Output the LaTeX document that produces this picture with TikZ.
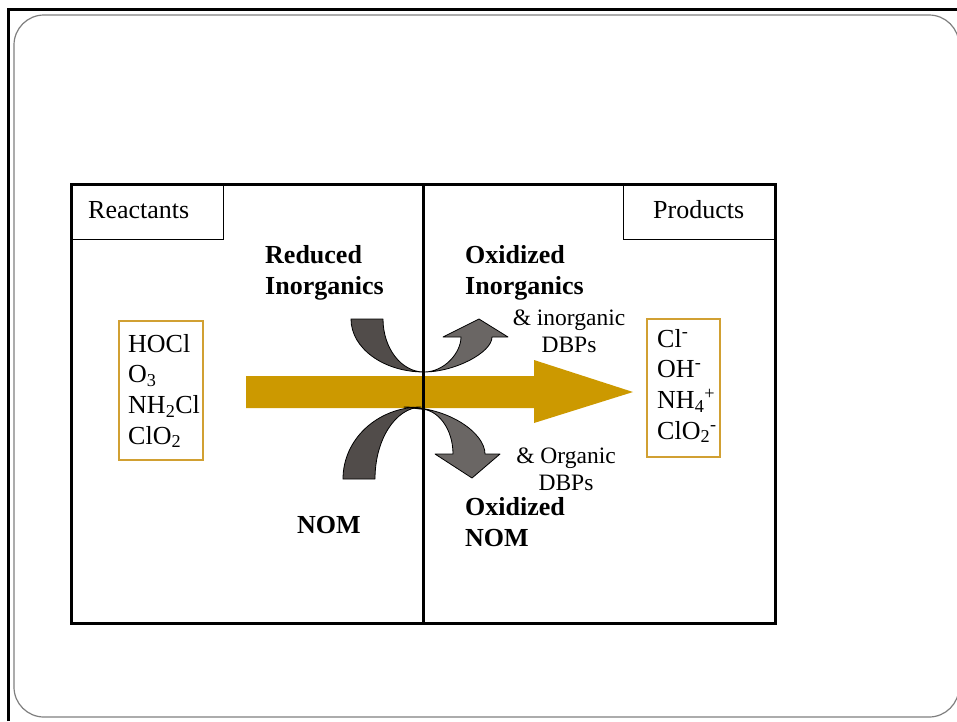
\documentclass[tikz,border=0pt]{standalone}
\usepackage{fontspec}
\setmainfont{Liberation Serif}
\definecolor{goldarrow}{HTML}{CC9900}
\definecolor{goldbox}{HTML}{D1A032}
\definecolor{darkshape}{HTML}{514C4A}
\definecolor{lightshape}{HTML}{6A6664}
\definecolor{framegray}{HTML}{7F7F7F}
\begin{document}
\begin{tikzpicture}[x=1pt,y=-1pt,
  bigtxt/.style={inner sep=0pt, anchor=base west, font=\fontsize{26}{30.7}\selectfont},
  boldtxt/.style={inner sep=0pt, anchor=base west, font=\fontsize{26}{31}\selectfont\bfseries},
  smalltxt/.style={inner sep=0pt, anchor=base, font=\fontsize{23.5}{27}\selectfont},
  labelbox/.style={draw=black, line width=1pt},
  speciesbox/.style={draw=goldbox, line width=2pt},
  darkcurve/.style={fill=darkshape, draw=black, line width=0.8pt, line join=round},
  lightcurve/.style={fill=lightshape, draw=black, line width=0.8pt, line join=round}]
\useasboundingbox (0,0) rectangle (957,721);
% slide frame
\draw[line width=3pt] (8,721) -- (8,9) -- (957,9);
\draw[framegray, line width=1.2pt, rounded corners=30pt] (14,15) rectangle (959,717);
% label boxes
\draw[labelbox] (71.5,184) rectangle (223,239);
\draw[labelbox] (623,184) rectangle (775,239);
\node[bigtxt] (react) at (88,218.5) {Reactants};
\node[bigtxt] (prod) at (653,218.5) {Products};
% gold arrow
\fill[goldarrow] (246,376) -- (534,376) -- (534,360) -- (633,392) -- (534,423) -- (534,408) -- (246,408) -- cycle;
% bottom-right curved arrow
\draw[lightcurve] (404,407) .. controls (448.7,407) and (485,433) .. (485,454)
  -- (500,454) -- (472,478) -- (435,454) -- (453,454)
  .. controls (453,429.1) and (438.2,409) .. (420,409) -- cycle;
% bottom-left curved tail
\draw[darkcurve] (343,479) .. controls (343,439.2) and (377.5,407) .. (421,407)
  .. controls (395.1,408) and (375,439.8) .. (375,479) -- cycle;
% top-left curved tail
\draw[darkcurve] (351,319) -- (383,319) .. controls (383,348.3) and (401.4,372) .. (424,372)
  .. controls (383.7,372) and (351,348.3) .. (351,319) -- cycle;
% top-right curved arrow
\draw[lightcurve] (424,372) .. controls (444.4,372) and (461,352.7) .. (461,337)
  -- (443,337) -- (479,319) -- (508,337) -- (492,337)
  .. controls (492,352.7) and (454.4,372) .. (424,372) -- cycle;
% main frame on top
\draw[line width=3pt] (71.5,184) rectangle (775,623);
\draw[line width=3pt] (423,184) -- (423,623);
% species boxes
\draw[speciesbox] (118.5,320.5) rectangle (202.5,459.5);
\draw[speciesbox] (647,319) rectangle (720,457);
\node[bigtxt] (reactants) at (128,352) {\begin{tabular}[t]{@{}l@{}}HOCl\\O\textsubscript{3}\\NH\textsubscript{2}Cl\\ClO\textsubscript{2}\end{tabular}};
\node[bigtxt] (products) at (657,347) {\begin{tabular}[t]{@{}l@{}}Cl\textsuperscript{-}\\OH\textsuperscript{-}\\NH\textsubscript{4}\textsuperscript{+}\\ClO\textsubscript{2}\textsuperscript{-}\end{tabular}};
% labels
\node[boldtxt] (redinorg) at (265,263) {\begin{tabular}[t]{@{}l@{}}Reduced\\Inorganics\end{tabular}};
\node[boldtxt] (oxinorg) at (465,263) {\begin{tabular}[t]{@{}l@{}}Oxidized\\Inorganics\end{tabular}};
\node[smalltxt] (inorgdbp) at (569,325) {\begin{tabular}[t]{@{}c@{}}\& inorganic\\DBPs\end{tabular}};
\node[smalltxt] (orgdbp) at (566,463) {\begin{tabular}[t]{@{}c@{}}\& Organic\\DBPs\end{tabular}};
\node[boldtxt] (oxnom) at (465,515) {\begin{tabular}[t]{@{}l@{}}Oxidized\\NOM\end{tabular}};
\node[boldtxt] (nom) at (297,533) {NOM};
\end{tikzpicture}
\end{document}
